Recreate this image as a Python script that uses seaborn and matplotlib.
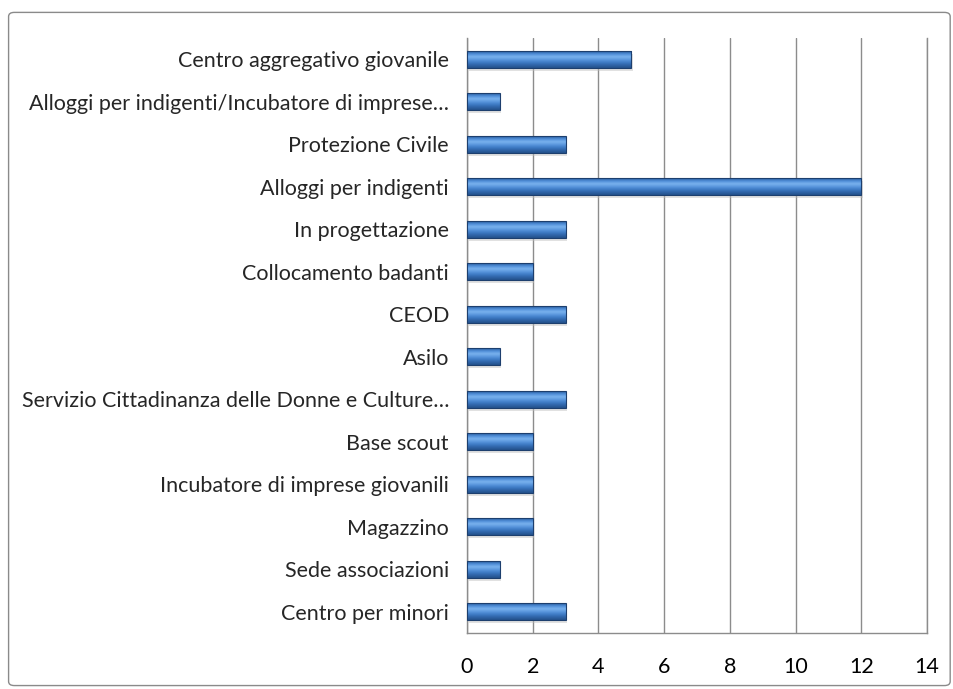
import numpy as np
import pandas as pd
import seaborn as sns
import matplotlib.pyplot as plt
from matplotlib.patches import FancyBboxPatch
from matplotlib.colors import LinearSegmentedColormap

categories = [
    "Centro aggregativo giovanile",
    "Alloggi per indigenti/Incubatore di imprese…",
    "Protezione Civile",
    "Alloggi per indigenti",
    "In progettazione",
    "Collocamento badanti",
    "CEOD",
    "Asilo",
    "Servizio Cittadinanza delle Donne e Culture…",
    "Base scout",
    "Incubatore di imprese giovanili",
    "Magazzino",
    "Sede associazioni",
    "Centro per minori",
]
values = [5, 1, 3, 12, 3, 2, 3, 1, 3, 2, 2, 2, 1, 3]
x_ticks = [0, 2, 4, 6, 8, 10, 12, 14]

df = pd.DataFrame({"categoria": categories, "valore": values})

sns.set_style("white")
plt.rcParams["font.family"] = ["Lato", "DejaVu Sans"]

fig = plt.figure(figsize=(9.54, 6.89), dpi=100)
ax = fig.add_axes([0.4895, 0.0813, 0.4822, 0.8635])

sns.barplot(data=df, x="valore", y="categoria", orient="h", color="#3a74c0",
            width=0.40, ax=ax, zorder=3)

# gradient fill, like the spreadsheet bevel
grad = LinearSegmentedColormap.from_list(
    "bevel", ["#2a5d9e", "#4f8ed8", "#7ab2ee", "#5b98de", "#3f7cc6", "#2f64a8", "#24518a"])
g = np.linspace(0, 1, 64).reshape(-1, 1)
for p in ax.patches:
    x0, y0 = p.get_x(), p.get_y()
    w, h = p.get_width(), p.get_height()
    # soft shadow
    ax.add_patch(plt.Rectangle((x0 + 0.05, y0 + 0.07), w, h, color="#bdbdbd",
                               alpha=0.45, zorder=2, lw=0))
    im = ax.imshow(g, cmap=grad, aspect="auto", extent=(x0, x0 + w, y0 + h, y0),
                   zorder=4, interpolation="bicubic")
    im.set_clip_path(p)
    p.set_edgecolor("#1d3f6e")
    p.set_linewidth(0.8)
    p.set_zorder(5)
    p.set_facecolor("none")

ax.set_xlim(0, 14)
ax.set_ylim(len(categories) - 0.5, -0.5)
ax.set_xticks(x_ticks)
ax.set_xticklabels([str(t) for t in x_ticks])
ax.xaxis.grid(True, color="#8c8c8c", linewidth=1.0, zorder=0)
ax.set_axisbelow(True)
ax.set_xlabel("")
ax.set_ylabel("")
ax.tick_params(axis="x", labelsize=15.5, pad=17, length=0, colors="#000000")
ax.tick_params(axis="y", labelsize=15.5, pad=13, length=0)
ax.spines["top"].set_visible(False)
for s in ["left", "bottom", "right"]:
    ax.spines[s].set_color("#8c8c8c")
    ax.spines[s].set_linewidth(1.0)

border = FancyBboxPatch((0.009, 0.005), 0.987, 0.977, transform=fig.transFigure,
                        boxstyle="round,pad=0,rounding_size=0.006",
                        facecolor="none", edgecolor="#8a8a8a", linewidth=1.0)
fig.patches.append(border)

fig.savefig("out.png", dpi=100)
